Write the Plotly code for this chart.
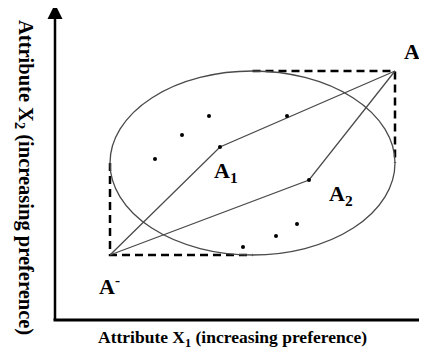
import plotly.graph_objects as go

# Data (diagram units: origin at the axes corner)
anti_ideal = (55, 65)      # A-
ideal = (340, 249)         # A+
alt_names = ["A1", "A2"]
alt_x = [165, 254]
alt_y = [173, 140]
dots_x = [100, 127, 154, 232, 188, 221, 242]
dots_y = [161, 185, 204, 204, 73, 84, 96]
label_text = ["<b>A<sup>-</sup></b>", "<b>A<sup><span style='color:#e8b400'>+</span></sup></b>",
              "<b>A<sub>1</sub></b>", "<b>A<sub>2</sub></b>"]
label_x = [42, 347, 157, 272]
label_y = [35, 270, 148, 125]
x_title = "<b>Attribute X<sub>1</sub> (increasing preference)</b>"
y_title = "<b>Attribute X<sub>2</sub> (increasing preference)</b>"

FONT = "Liberation Serif"
fig = go.Figure()

cx = (anti_ideal[0] + ideal[0]) / 2
cy = (anti_ideal[1] + ideal[1]) / 2

# Ellipse
fig.add_shape(type="circle", xref="x", yref="y",
              x0=anti_ideal[0], x1=ideal[0], y0=anti_ideal[1], y1=ideal[1],
              line=dict(color="#4a4a4a", width=1.3))

# Dashed L's
fig.add_trace(go.Scatter(x=[anti_ideal[0], anti_ideal[0], cx], y=[cy, anti_ideal[1], anti_ideal[1]],
                         mode="lines", line=dict(color="black", width=2.5, dash="8px,5px"),
                         hoverinfo="skip"))
fig.add_trace(go.Scatter(x=[cx, ideal[0], ideal[0]], y=[ideal[1], ideal[1], cy],
                         mode="lines", line=dict(color="black", width=2.5, dash="8px,5px"),
                         hoverinfo="skip"))

# Paths A- -> Ai -> A+
for ax_, ay_ in zip(alt_x, alt_y):
    fig.add_trace(go.Scatter(x=[anti_ideal[0], ax_, ideal[0]], y=[anti_ideal[1], ay_, ideal[1]],
                             mode="lines", line=dict(color="#4a4a4a", width=1.3),
                             hoverinfo="skip"))

# Points
fig.add_trace(go.Scatter(x=alt_x + dots_x, y=alt_y + dots_y, mode="markers",
                         marker=dict(color="black", size=4), hoverinfo="skip"))

# Labels
for t, lx, ly in zip(label_text, label_x, label_y):
    fig.add_annotation(x=lx, y=ly, text=t, showarrow=False, xanchor="left", yanchor="middle",
                       font=dict(family=FONT, size=22, color="black"))

# Axes drawn as shapes
fig.add_shape(type="line", xref="x", yref="y", x0=-1.5, x1=380, y0=0, y1=0,
              line=dict(color="black", width=3))
fig.add_shape(type="line", xref="x", yref="y", x0=0, x1=0, y0=0, y1=308,
              line=dict(color="black", width=2.5))
fig.add_annotation(x=0, y=316, ax=0, ay=300, xref="x", yref="y", axref="x", ayref="y",
                   text="", showarrow=True, arrowhead=2, arrowsize=1.2, arrowwidth=2.5,
                   arrowcolor="black")

# Axis titles
fig.add_annotation(x=177, y=-18, text=x_title, showarrow=False,
                   font=dict(family=FONT, size=17.5, color="black"), xanchor="center", yanchor="middle")
fig.add_annotation(x=-30, y=143, text=y_title, showarrow=False, textangle=90,
                   font=dict(family=FONT, size=20.5, color="black"), xanchor="center", yanchor="middle")

fig.update_layout(
    width=419, height=342, margin=dict(l=0, r=0, t=0, b=0),
    paper_bgcolor="white", plot_bgcolor="white", showlegend=False,
    xaxis=dict(range=[-47, 372], visible=False, fixedrange=True),
    yaxis=dict(range=[-30, 312], visible=False, fixedrange=True),
)
fig.write_html("out.html")
